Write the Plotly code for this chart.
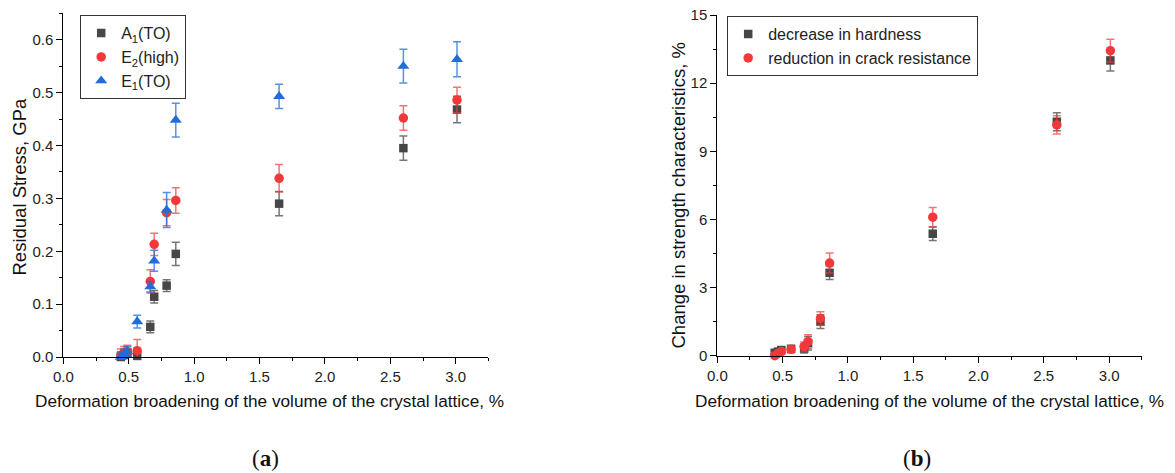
import plotly.graph_objects as go

# ---- data ----
x_def = [0.44, 0.465, 0.49, 0.565, 0.665, 0.695, 0.79, 0.86, 1.65, 2.6, 3.01]

# panel (a): residual stress, GPa
a1_to = [0.0, 0.004, 0.008, 0.002, 0.057, 0.114, 0.135, 0.195, 0.29, 0.395, 0.468]
a1_to_err = [0.008, 0.008, 0.008, 0.01, 0.011, 0.012, 0.011, 0.022, 0.023, 0.023, 0.025]
e2_high = [0.003, 0.008, 0.01, 0.012, 0.143, 0.213, 0.273, 0.296, 0.338, 0.452, 0.486]
e2_high_err = [0.012, 0.012, 0.012, 0.021, 0.022, 0.021, 0.025, 0.024, 0.026, 0.023, 0.024]
e1_to = [0.0, 0.005, 0.01, 0.067, 0.133, 0.182, 0.278, 0.448, 0.493, 0.55, 0.563]
e1_to_err = [0.01, 0.01, 0.01, 0.012, 0.01, 0.02, 0.033, 0.032, 0.023, 0.032, 0.033]

# panel (b): change in strength characteristics, %
hardness = [0.13, 0.18, 0.25, 0.3, 0.32, 0.55, 1.5, 3.65, 5.37, 10.3, 13.0]
hardness_err = [0.1, 0.1, 0.1, 0.15, 0.2, 0.3, 0.3, 0.3, 0.3, 0.4, 0.47]
crack = [0.0, 0.1, 0.18, 0.28, 0.4, 0.62, 1.64, 4.08, 6.1, 10.16, 13.43]
crack_err = [0.1, 0.1, 0.1, 0.15, 0.2, 0.3, 0.3, 0.44, 0.42, 0.4, 0.5]

names_a = ["A<sub>1</sub>(TO)", "E<sub>2</sub>(high)", "E<sub>1</sub>(TO)"]
names_b = ["decrease in hardness", "reduction in crack resistance"]

GRAY = "#474747"
RED = "#f2383a"
BLUE = "#1f6cdb"
GRAY_E = "rgba(71,71,71,0.75)"
RED_E = "rgba(242,56,58,0.7)"
BLUE_E = "rgba(31,108,219,0.75)"

FONT = "Liberation Sans, Arial, sans-serif"

fig = go.Figure()

def add(x, y, err, name, color, ecolor, symbol, size, xa, ya, legend):
    fig.add_trace(go.Scatter(
        x=x, y=y, name=name, mode="markers",
        marker=dict(symbol=symbol, size=size, color=color, line=dict(width=0)),
        error_y=dict(type="data", array=err, visible=True, color=ecolor,
                     thickness=1.5, width=4),
        xaxis=xa, yaxis=ya, legend=legend, cliponaxis=False,
    ))

add(x_def, a1_to, a1_to_err, names_a[0], GRAY, GRAY_E, "square", 8.5, "x", "y", "legend")
add(x_def, e2_high, e2_high_err, names_a[1], RED, RED_E, "circle", 9.5, "x", "y", "legend")
add(x_def, e1_to, e1_to_err, names_a[2], BLUE, BLUE_E, "triangle-up", 10.5, "x", "y", "legend")
add(x_def, hardness, hardness_err, names_b[0], GRAY, GRAY_E, "square", 8.5, "x2", "y2", "legend2")
add(x_def, crack, crack_err, names_b[1], RED, RED_E, "circle", 9.5, "x2", "y2", "legend2")

W, H = 1175, 473

axis_common = dict(
    showline=True, linecolor="black", linewidth=1, mirror=False, automargin=False,
    showgrid=False, zeroline=False, ticks="outside", ticklen=6, tickwidth=1,
    tickcolor="black", tickfont=dict(family=FONT, size=15, color="#222"),
)

fig.update_layout(
    width=W, height=H,
    margin=dict(l=0, r=0, t=0, b=0, autoexpand=False),
    paper_bgcolor="white", plot_bgcolor="white",
    font=dict(family=FONT, color="#222"),
    xaxis=dict(domain=[63.3 / W, 488.4 / W], range=[0, 3.25], tickvals=[0, 0.5, 1, 1.5, 2, 2.5, 3],
               ticktext=["0.0", "0.5", "1.0", "1.5", "2.0", "2.5", "3.0"],
               minor=dict(ticks="outside", ticklen=3, dtick=0.25, tickcolor="black"),
               anchor="y", **axis_common),
    yaxis=dict(domain=[(H - 357) / H, (H - 13.3) / H], range=[0, 0.65],
               tickvals=[0, 0.1, 0.2, 0.3, 0.4, 0.5, 0.6],
               ticktext=["0.0", "0.1", "0.2", "0.3", "0.4", "0.5", "0.6"],
               minor=dict(ticks="outside", ticklen=3, dtick=0.05, tickcolor="black"),
               anchor="x", **axis_common),
    xaxis2=dict(domain=[717.3 / W, 1141.7 / W], range=[0, 3.25], tickvals=[0, 0.5, 1, 1.5, 2, 2.5, 3],
                ticktext=["0.0", "0.5", "1.0", "1.5", "2.0", "2.5", "3.0"],
                minor=dict(ticks="outside", ticklen=3, dtick=0.25, tickcolor="black"),
                anchor="y2", **axis_common),
    yaxis2=dict(domain=[(H - 355.7) / H, (H - 15) / H], range=[0, 15],
                tickvals=[0, 3, 6, 9, 12, 15],
                minor=dict(ticks="outside", ticklen=3, dtick=1.5, tickcolor="black"),
                anchor="x2", **axis_common),
    legend=dict(x=80 / W, y=(H - 15) / H, xanchor="left", yanchor="top",
                bordercolor="#333", borderwidth=1.2, bgcolor="white",
                font=dict(family=FONT, size=16, color="#222"), tracegroupgap=0),
    legend2=dict(x=727 / W, y=(H - 16) / H, xanchor="left", yanchor="top",
                 bordercolor="#333", borderwidth=1.2, bgcolor="white",
                 font=dict(family=FONT, size=16, color="#222"), tracegroupgap=0),
    showlegend=True,
)

xtitle = "Deformation broadening of the volume of the crystal lattice, %"
ann = [
    dict(text=xtitle, x=269 / W, y=(H - 401) / H, size=17.2, angle=0),
    dict(text=xtitle, x=929 / W, y=(H - 401) / H, size=17.2, angle=0),
    dict(text="Residual Stress, GPa", x=19 / W, y=(H - 186.5) / H, size=18.5, angle=-90),
    dict(text="Change in strength characteristics, %", x=677.5 / W, y=(H - 196) / H, size=18.5, angle=-90),
]
for a in ann:
    fig.add_annotation(text=a["text"], x=a["x"], y=a["y"], xref="paper", yref="paper",
                       xanchor="center", yanchor="middle", showarrow=False, textangle=a["angle"],
                       font=dict(family=FONT, size=a["size"], color="#111"))

for lab, xc in [("(<b>a</b>)", 265), ("(<b>b</b>)", 917)]:
    fig.add_annotation(text=lab, x=xc / W, y=(H - 458) / H, xref="paper", yref="paper",
                       xanchor="center", yanchor="middle", showarrow=False,
                       font=dict(family="Liberation Serif, DejaVu Serif, serif", size=23, color="#111"))

fig.write_html("out.html", config={"displayModeBar": False},
               post_script="document.body.style.margin='0';document.body.style.overflow='hidden';")
